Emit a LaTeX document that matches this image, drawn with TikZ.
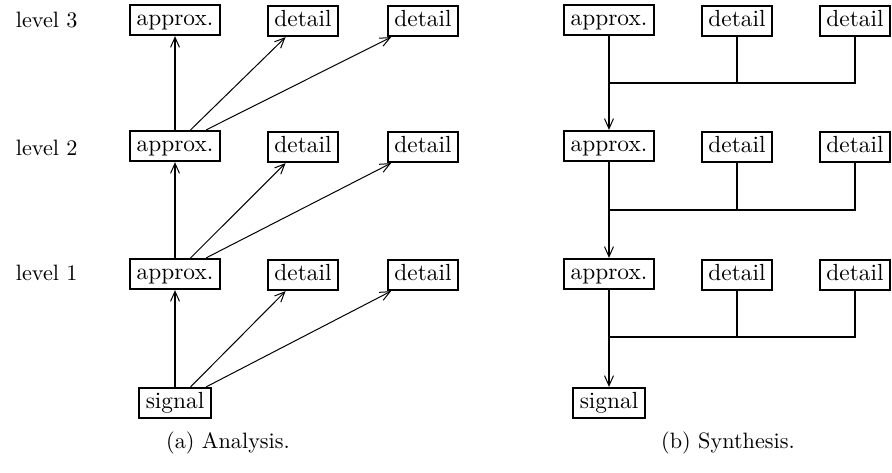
\documentclass[tikz,border=0pt]{standalone}
\usetikzlibrary{arrows.meta}

\begin{document}
\begin{tikzpicture}[x=0.45pt, y=-0.45pt,
    box/.style={draw, line width=1pt, inner xsep=3pt, inner ysep=0pt,
        minimum height=13.5pt, text height=7.5pt, text depth=2.5pt,
        font=\fontsize{10.5}{12}\selectfont},
    thin arrow/.style={line width=0.45pt, -{Straight Barb[length=4.5pt, width=4pt]}},
    thick arrow/.style={line width=1pt, -{Straight Barb[length=4.5pt, width=4pt, line width=0.45pt]}},
    wire/.style={line width=1pt}]
    \useasboundingbox (0,0) rectangle (892,472);

    % Level labels
    \node[anchor=west] at (8,20) {level 3};
    \node[anchor=west] at (8,148) {level 2};
    \node[anchor=west] at (8,273) {level 1};

    % Analysis
    \foreach \lev/\y in {3/20, 2/146, 1/274} {
        \node[box] (a\lev) at (175,\y) {approx.};
        \node[box] (da\lev) at (303,\y+1) {detail};
        \node[box] (db\lev) at (423,\y+1) {detail};
    }
    \node[box] (sig) at (175,403) {signal};
    \foreach \lo/\hi in {sig/1, a1/2, a2/3} {
        \draw[thick arrow] (\lo) -- (a\hi);
        \draw[thin arrow] ([xshift=7pt]\lo.north) -- ([xshift=8.5pt]da\hi.south west);
        \draw[thin arrow] ([xshift=14pt]\lo.north) -- ([xshift=2pt]db\hi.south west);
    }
    \node at (228,443) {(a) Analysis.};

    % Synthesis
    \foreach \lev/\y/\j in {3/20/83, 2/146/210, 1/274/337} {
        \node[box] (s\lev) at (609,\y) {approx.};
        \node[box] (sa\lev) at (737,\y+1) {detail};
        \node[box] (sb\lev) at (855,\y+1) {detail};
        \coordinate (j\lev) at (609,\j);
        \draw[wire] (s\lev) -- (j\lev) -| (sb\lev);
        \draw[wire] (sa\lev) -- (sa\lev |- j\lev);
    }
    \node[box] (out) at (609,403) {signal};
    \draw[thick arrow] (j3) -- (s2);
    \draw[thick arrow] (j2) -- (s1);
    \draw[thick arrow] (j1) -- (out);
    \node at (728,443) {(b) Synthesis.};
\end{tikzpicture}
\end{document}
